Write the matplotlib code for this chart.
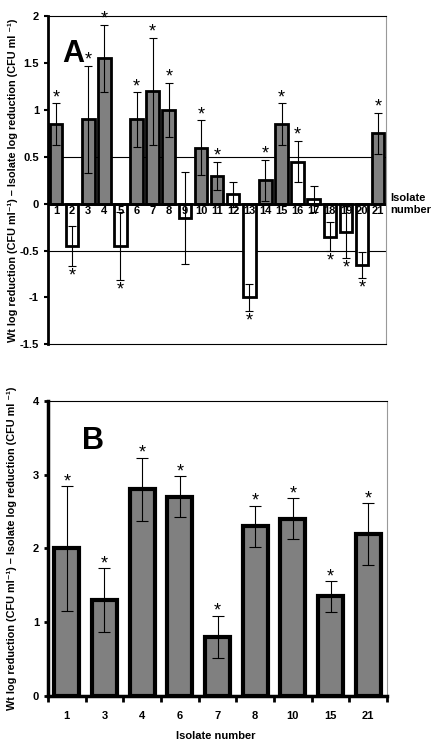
import matplotlib
matplotlib.use("Agg")
import matplotlib.pyplot as plt

plt.rcParams["font.family"] = ["Liberation Sans", "DejaVu Sans"]
plt.rcParams["font.weight"] = "bold"

# panel A
iso_a = list(range(1, 22))
val_a = [0.85, -0.45, 0.9, 1.55, -0.45, 0.9, 1.2, 1.0, -0.15, 0.6, 0.3,
         0.1, -1.0, 0.25, 0.85, 0.45, 0.05, -0.35, -0.3, -0.65, 0.75]
err_a = [0.22, 0.21, 0.57, 0.36, 0.36, 0.29, 0.57, 0.29, 0.49, 0.29, 0.15,
         0.13, 0.14, 0.22, 0.22, 0.22, 0.14, 0.15, 0.28, 0.14, 0.22]
grey_a = [1, 0, 1, 1, 0, 1, 1, 1, 0, 1, 1, 0, 0, 1, 1, 0, 0, 0, 0, 0, 1]
star_a = [1, 1, 1, 1, 1, 1, 1, 1, 0, 1, 1, 0, 1, 1, 1, 1, 0, 1, 1, 1, 1]

# panel B
iso_b = ["1", "3", "4", "6", "7", "8", "10", "15", "21"]
val_b = [2.0, 1.3, 2.8, 2.7, 0.8, 2.3, 2.4, 1.35, 2.2]
err_b = [0.85, 0.43, 0.43, 0.28, 0.29, 0.28, 0.28, 0.21, 0.42]

ylab = "Wt log reduction (CFU ml\u207b\u00b9) \u2013 Isolate log reduction (CFU ml \u207b\u00b9)"

fig = plt.figure(figsize=(4.32, 7.42), dpi=100)

# ---- A ----
ax = fig.add_axes([0.111, 0.536, 0.783, 0.442])
cols = ["#808080" if g else "white" for g in grey_a]
ax.bar(iso_a, val_a, width=0.78, color=cols, edgecolor="black", linewidth=2, zorder=3)
ax.errorbar(iso_a, val_a, yerr=err_a, fmt="none", ecolor="black", elinewidth=0.8,
            capsize=3, capthick=0.8, zorder=4)
for x, v, e, s in zip(iso_a, val_a, err_a, star_a):
    if not s:
        continue
    if v >= 0:
        ax.text(x, v + e - 0.03, "*", ha="center", va="bottom", fontsize=13, fontweight="normal")
    else:
        ax.text(x, v - e - 0.2, "*", ha="center", va="bottom", fontsize=13, fontweight="normal")
ax.axhline(0.5, color="black", linewidth=0.8, zorder=1)
ax.axhline(-0.5, color="black", linewidth=0.8, zorder=1)
ax.axhline(0, color="black", linewidth=2, zorder=5)
for x in iso_a:
    ax.text(x, -0.02, str(x), ha="center", va="top", fontsize=8, zorder=6)
ax.text(21.75, 0.0, "Isolate\nnumber", ha="left", va="center", fontsize=8, clip_on=False)
ax.text(1.4, 1.6, "A", fontsize=22, fontweight="bold", va="center")
ax.set_xlim(0.5, 21.5)
ax.set_ylim(-1.5, 2)
ax.set_yticks([-1.5, -1, -0.5, 0, 0.5, 1, 1.5, 2])
ax.set_yticklabels(["-1.5", "-1", "-0.5", "0", "0.5", "1", "1.5", "2"])
ax.set_xticks([])
ax.tick_params(axis="y", labelsize=8, length=3, width=1.5)
ax.spines["left"].set_linewidth(2)
ax.spines["top"].set_linewidth(0.8)
ax.spines["bottom"].set_linewidth(0.8)
ax.spines["right"].set_color("#999999")
ax.set_ylabel(ylab, fontsize=7.8, fontweight="bold")
ax.yaxis.set_label_coords(-0.09, 0.5)

# ---- B ----
bx = fig.add_axes([0.111, 0.062, 0.785, 0.398])
xb = list(range(1, len(iso_b) + 1))
bx.bar(xb, val_b, width=0.66, color="#808080", edgecolor="black", linewidth=3, zorder=3)
bx.errorbar(xb, val_b, yerr=err_b, fmt="none", ecolor="black", elinewidth=0.8,
            capsize=4, capthick=0.8, zorder=4)
for x, v, e in zip(xb, val_b, err_b):
    bx.text(x, v + e - 0.06, "*", ha="center", va="bottom", fontsize=13, fontweight="normal")
bx.text(1.4, 3.45, "B", fontsize=22, fontweight="bold", va="center")
bx.set_xlim(0.5, len(iso_b) + 0.5)
bx.set_ylim(0, 4)
bx.set_yticks([0, 1, 2, 3, 4])
bx.set_xticks(xb)
bx.set_xticklabels(iso_b)
bx.set_xticks([i + 0.5 for i in range(len(iso_b) + 1)], minor=True)
bx.tick_params(axis="x", which="major", length=0, labelsize=8, pad=11)
bx.tick_params(axis="x", which="minor", length=4, width=2)
bx.tick_params(axis="y", labelsize=8, length=3, width=2)
bx.spines["left"].set_linewidth(2.5)
bx.spines["bottom"].set_linewidth(2.5)
bx.spines["top"].set_linewidth(0.8)
bx.spines["right"].set_color("#999999")
fig.text(0.5, 0.001, "Isolate number", ha="center", va="bottom", fontsize=8, fontweight="bold")
bx.set_ylabel(ylab, fontsize=7.8, fontweight="bold")
bx.yaxis.set_label_coords(-0.09, 0.5)

fig.savefig("out.png", dpi=100)
